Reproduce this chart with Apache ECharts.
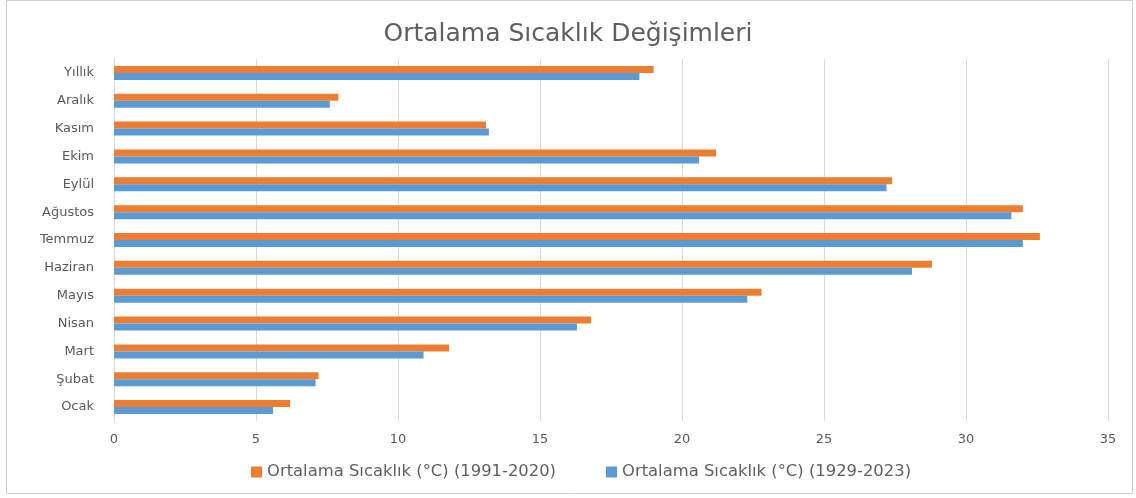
<!DOCTYPE html>
<html><head><meta charset="utf-8">
<script src="https://cdn.jsdelivr.net/npm/echarts@6/dist/echarts.min.js"></script>
<style>html,body{margin:0;padding:0;background:#fff}#c{width:1136px;height:498px}</style>
</head><body><div id="c"></div>
<script>
const categories = ['Ocak','Şubat','Mart','Nisan','Mayıs','Haziran','Temmuz','Ağustos','Eylül','Ekim','Kasım','Aralık','Yıllık'];
const series1991 = [6.2, 7.2, 11.8, 16.8, 22.8, 28.8, 32.6, 32.0, 27.4, 21.2, 13.1, 7.9, 19.0];
const series1929 = [5.6, 7.1, 10.9, 16.3, 22.3, 28.1, 32.0, 31.6, 27.2, 20.6, 13.2, 7.6, 18.5];
const name1991 = 'Ortalama Sıcaklık (°C) (1991-2020)';
const name1929 = 'Ortalama Sıcaklık (°C) (1929-2023)';
const titleText = 'Ortalama Sıcaklık Değişimleri';

const font = '"DejaVu Sans", sans-serif';
const chart = echarts.init(document.getElementById('c'));
chart.setOption({
  animation: false,
  textStyle: {fontFamily: font},
  title: {text: titleText, left: 'center', top: 17,
    textStyle: {fontFamily: font, fontSize: 25, fontWeight: 'normal', color: '#5f5f5f'}},
  graphic: [{type: 'rect', shape: {x: 6.5, y: 0.5, width: 1126, height: 493},
    style: {fill: 'none', stroke: '#d0d0d0', lineWidth: 1}, silent: true}],
  legend: {data: [name1991, name1929], bottom: 13, left: 246, itemWidth: 11, itemHeight: 11, itemGap: 50,
    icon: 'rect', textStyle: {fontFamily: font, fontSize: 16.4, color: '#5f5f5f'}},
  grid: {left: 114, right: 28, top: 59, bottom: 77, containLabel: false},
  xAxis: {type: 'value', min: 0, max: 35, interval: 5,
    axisLine: {show: false}, axisTick: {show: false},
    splitLine: {lineStyle: {color: '#d9d9d9'}},
    axisLabel: {color: '#595959', fontSize: 13, margin: 12, fontFamily: font}},
  yAxis: {type: 'category', data: categories,
    axisLine: {lineStyle: {color: '#d9d9d9'}}, axisTick: {show: false},
    axisLabel: {color: '#595959', fontSize: 13, margin: 20, fontFamily: font}},
  series: [
    {name: name1991, type: 'bar', data: series1991, barWidth: 7, barGap: '0%', itemStyle: {color: '#ED7D31'}},
    {name: name1929, type: 'bar', data: series1929, barWidth: 7, barGap: '0%', itemStyle: {color: '#5B9BD5'}}
  ]
});
</script></body></html>
